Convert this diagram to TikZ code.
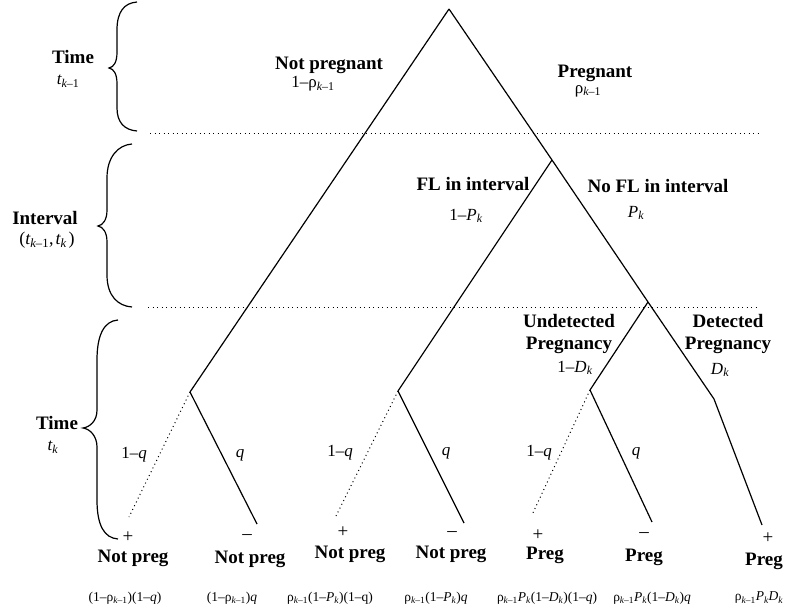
\documentclass[tikz,border=0pt]{standalone}
\usepackage{fontspec}
\setmainfont{Liberation Serif}
\newcommand{\km}{\textsubscript{\itshape k\upshape –1}}
\newcommand{\kk}{\textsubscript{\itshape k}}
\newcommand{\iv}[1]{{\itshape #1}}
\begin{document}
\begin{tikzpicture}[x=1pt,y=-1pt,
  branch/.style={line width=1.2pt},
  dotbranch/.style={line width=1pt, dash pattern=on 1pt off 3.2pt},
  sepline/.style={line width=1pt, dash pattern=on 1pt off 3.5pt},
  bracepath/.style={line width=1.2pt},
  lab/.style={font=\fontsize{19}{22}\selectfont\bfseries, inner sep=0pt, align=center},
  mlab/.style={font=\fontsize{17}{19}\selectfont, inner sep=0pt},
  sgn/.style={font=\fontsize{19}{20}\selectfont, inner sep=0pt},
  frm/.style={font=\fontsize{13.5}{15}\selectfont, inner sep=0pt}]
\useasboundingbox (0,0) rectangle (789,612);

% tree coordinates
\coordinate (root) at (449,9);
\coordinate (A) at (190,392);
\coordinate (J1) at (552,160);
\coordinate (B) at (398,391);
\coordinate (J2) at (648,302);
\coordinate (C) at (590,390);
\coordinate (Dbend) at (714,399);
\coordinate (A1) at (129,517);
\coordinate (A2) at (257,524);
\coordinate (B1) at (336,516);
\coordinate (B2) at (464,523);
\coordinate (C1) at (532,515);
\coordinate (C2) at (652,522);
\coordinate (D) at (762,525);

% separators
\coordinate (s1a) at (150,134); \coordinate (s1b) at (760,134);
\coordinate (s2a) at (148,307); \coordinate (s2b) at (760,307);
\draw[sepline] (s1a) -- (s1b);
\draw[sepline] (s2a) -- (s2b);

% branches
\draw[branch] (root) -- (A);
\draw[branch] (root) -- (J1) -- (J2) -- (Dbend) -- (D);
\draw[branch] (J1) -- (B);
\draw[branch] (J2) -- (C);
\draw[dotbranch] (A) -- (A1);
\draw[branch] (A) -- (A2);
\draw[dotbranch] (B) -- (B1);
\draw[branch] (B) -- (B2);
\draw[dotbranch] (C) -- (C1);
\draw[branch] (C) -- (C2);

% braces
\draw[bracepath] (137,2) .. controls (124,3) and (117,12) .. (117,30) -- (117,52) .. controls (117,62) and (114,67) .. (109,68) .. controls (114,69) and (117,74) .. (117,84) -- (117,108) .. controls (117,122) and (124,130) .. (137,131);
\draw[bracepath] (132,144) .. controls (118,145) and (107,157) .. (107,178) -- (107,210) .. controls (107,220) and (103,225) .. (98,226) .. controls (103,227) and (107,232) .. (107,242) -- (107,275) .. controls (107,296) and (118,306) .. (132,307);
\draw[bracepath] (118,320) .. controls (104,321) and (97,335) .. (97,360) -- (97,410) .. controls (97,421) and (90,427) .. (83,428) .. controls (90,429) and (97,436) .. (97,447) -- (97,500) .. controls (97,525) and (104,538) .. (118,539);

% left labels
\node[lab] (time1) at (73,57) {Time};
\node[mlab] (t1) at (68,81) {\iv{t}\km};
\node[lab] (intv) at (45,218) {Interval};
\node[mlab, font=\fontsize{18}{20}\selectfont] (t2) at (47,240) {(\iv{t}\km,\hspace{2pt}\iv{t}\kk\hspace{2pt})};
\node[lab] (time2) at (57,423) {Time};
\node[mlab] (t3) at (53,447) {\iv{t}\kk};

% branch labels
\node[lab] (np) at (329,65) {Not pregnant};
\node[mlab] (np1) at (313,84) {1–ρ\km};
\node[lab] (pg) at (595,73) {Pregnant};
\node[mlab] (pg1) at (588,91) {ρ\km};
\node[lab] (fl) at (473,184) {FL in interval};
\node[mlab] (fl1) at (466,216) {1–\iv{P}\kk};
\node[lab] (nfl) at (658,186) {No FL in interval};
\node[mlab] (nfl1) at (636,213) {\iv{P}\kk};
\node[lab] (und) at (569,334) {Undetected\\Pregnancy};
\node[mlab] (und1) at (575,368) {1–\iv{D}\kk};
\node[lab] (det) at (728,334) {Detected\\Pregnancy};
\node[mlab] (det1) at (720,370) {\iv{D}\kk};

\node[mlab] (qa1) at (134,455) {1–\iv{q}};
\node[mlab] (qa2) at (240,455) {\iv{q}};
\node[mlab] (qb1) at (340,453) {1–\iv{q}};
\node[mlab] (qb2) at (446,453) {\iv{q}};
\node[mlab] (qc1) at (539,453) {1–\iv{q}};
\node[mlab] (qc2) at (636,453) {\iv{q}};

% outcome signs
\node[sgn] (pa) at (128,537) {+};
\node[sgn] (ma) at (247,537) {–};
\node[sgn] (pb) at (343,532) {+};
\node[sgn] (mb) at (452,534) {–};
\node[sgn] (pc) at (538,535) {+};
\node[sgn] (mc) at (644,535) {–};
\node[sgn] (pd) at (768,538) {+};

% outcomes
\node[lab] (oa1) at (133,558) {Not preg};
\node[lab] (oa2) at (250,559) {Not preg};
\node[lab] (ob1) at (350,554) {Not preg};
\node[lab] (ob2) at (451,554) {Not preg};
\node[lab] (oc1) at (545,555) {Preg};
\node[lab] (oc2) at (644,557) {Preg};
\node[lab] (od) at (764,561) {Preg};

% formulas
\node[frm] (fa1) at (125,598) {(1–ρ\km)(1–\iv{q})};
\node[frm] (fa2) at (232,598) {(1–ρ\km)\iv{q}};
\node[frm] (fb1) at (330,598) {ρ\km(1–\iv{P}\kk)(1–q)};
\node[frm] (fb2) at (436,598) {ρ\km(1–\iv{P}\kk)\iv{q}};
\node[frm] (fc1) at (547,598) {ρ\km\iv{P}\kk(1–\iv{D}\kk)(1–\iv{q})};
\node[frm] (fc2) at (652,598) {ρ\km\iv{P}\kk(1–\iv{D}\kk)\iv{q}};
\node[frm] (fd) at (759,598) {ρ\km\iv{P}\kk\iv{D}\kk};
\end{tikzpicture}
\end{document}
